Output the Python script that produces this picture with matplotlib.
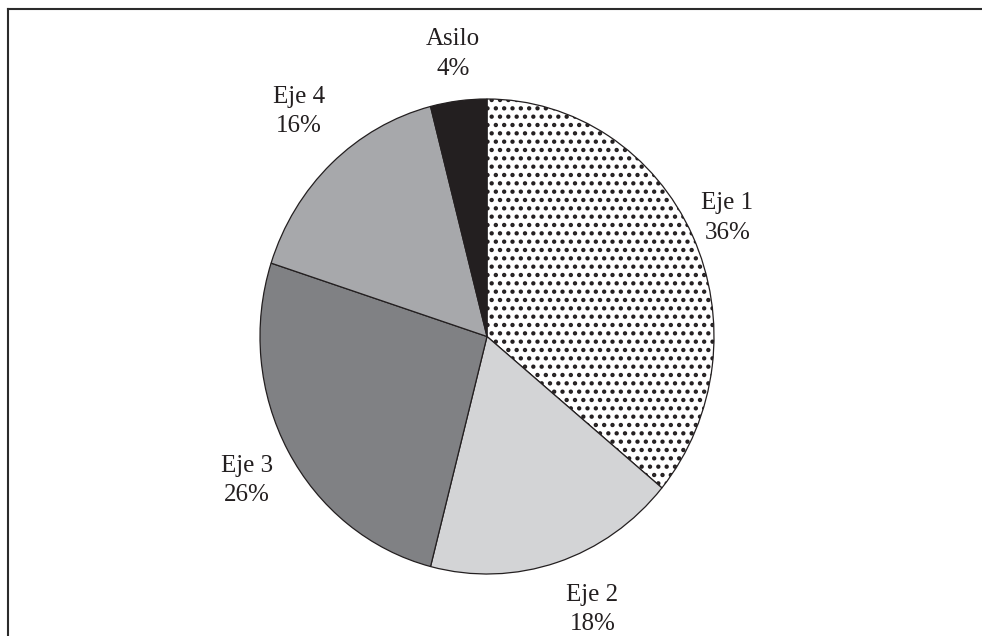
import numpy as np
import matplotlib
matplotlib.use("Agg")
import matplotlib.pyplot as plt
from matplotlib.lines import Line2D

# Data
labels = ["Eje 1", "Eje 2", "Eje 3", "Eje 4", "Asilo"]
values = [36, 18, 26, 16, 4]
colors = ["white", "#d3d4d6", "#808184", "#a7a8ab", "#231f20"]
hatches = ["..", None, None, None, None]
label_dist = [1.17, 1.24, 1.22, 1.26, 1.2]
label_shift = [0, 4, 1, -2, 0]  # small angular nudges (degrees)

plt.rcParams["font.family"] = ["Liberation Serif", "DejaVu Serif"]
plt.rcParams["hatch.linewidth"] = 1.9
plt.rcParams["hatch.color"] = "#111111"

fig = plt.figure(figsize=(9.82, 6.36), dpi=100)
# pie is drawn slightly taller than wide, like the reference
ax = fig.add_axes([260 / 982, 62 / 636, 454 / 982, 475 / 636])

wedges, _ = ax.pie(values, colors=colors, startangle=90, counterclock=False,
                   wedgeprops=dict(edgecolor="#231f20", linewidth=0.9),
                   labels=None)
for w, h in zip(wedges, hatches):
    if h:
        w.set_hatch(h)

ax.set_aspect("auto")
ax.set_xlim(-1, 1)
ax.set_ylim(-1, 1)
ax.axis("off")

# labels outside each wedge, centred
for w, lab, v, r, s in zip(wedges, labels, values, label_dist, label_shift):
    ang = np.deg2rad((w.theta1 + w.theta2) / 2 + s)
    ax.text(r * np.cos(ang), r * np.sin(ang), f"{lab}\n{v}%",
            ha="center", va="center", fontsize=18, linespacing=1.45,
            color="#231f20", clip_on=False)

# frame: top and left only
fig.add_artist(Line2D([7.5 / 982, 1], [1 - 8.5 / 636, 1 - 8.5 / 636],
                      transform=fig.transFigure, color="#2b2b2b", linewidth=1.5))
fig.add_artist(Line2D([7.5 / 982, 7.5 / 982], [0, 1 - 8.5 / 636],
                      transform=fig.transFigure, color="#2b2b2b", linewidth=1.5))

fig.savefig("out.png", dpi=100, facecolor="white")
